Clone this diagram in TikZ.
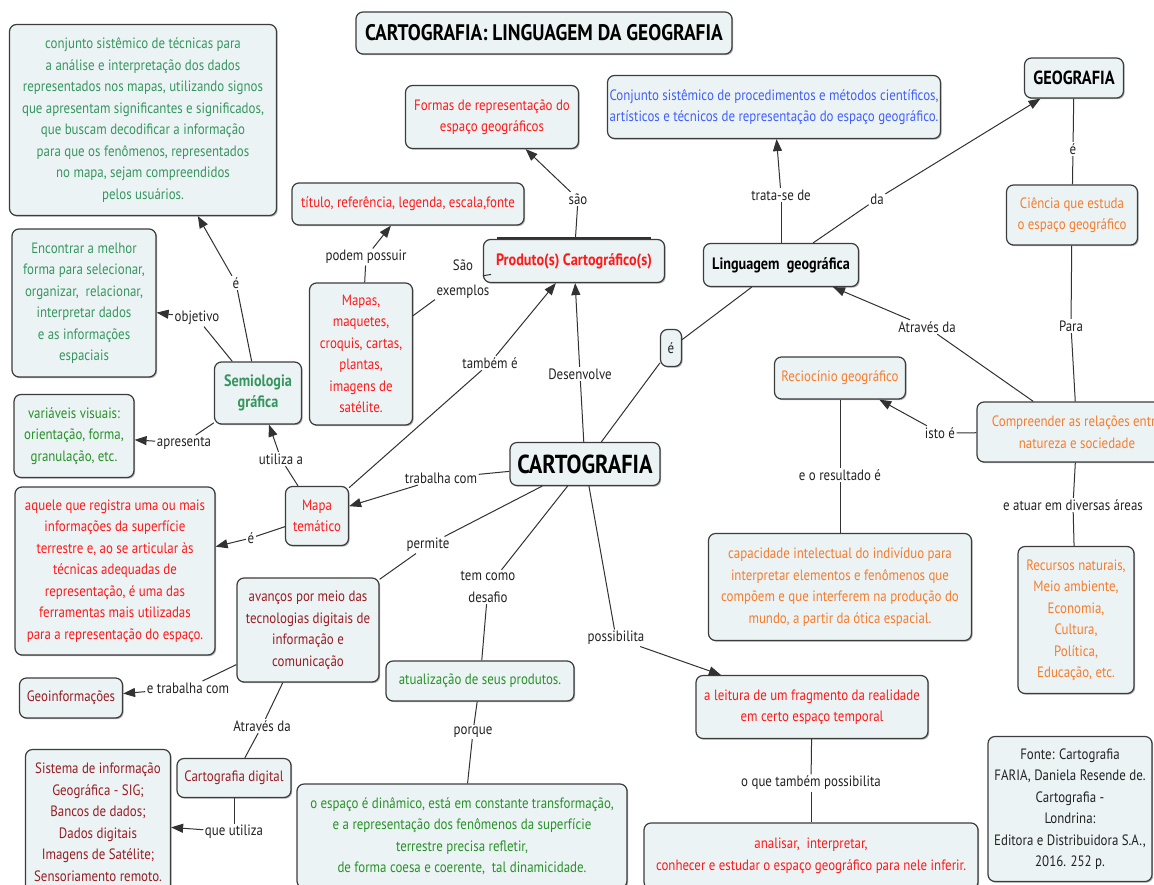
\documentclass[tikz,border=0pt]{standalone}
\usepackage{fontspec}
\setmainfont{PT Sans}[FakeStretch=0.86]
\usetikzlibrary{arrows.meta,shadows}
\definecolor{boxfill}{RGB}{236,243,245}
\definecolor{boxline}{RGB}{60,60,60}
\definecolor{linec}{RGB}{50,50,50}
\definecolor{lbltext}{RGB}{35,35,35}
\definecolor{cgreen}{RGB}{55,150,95}
\definecolor{cgreen2}{RGB}{40,145,40}
\definecolor{cred}{RGB}{255,25,25}
\definecolor{cdred}{RGB}{150,30,35}
\definecolor{corange}{RGB}{245,125,45}
\definecolor{cblue}{RGB}{65,95,255}
\newcommand\mapfont{\fontsize{15}{21.5}\selectfont}
\newcommand\mapbold{\fontsize{16.5}{21.5}\selectfont\bfseries}

\begin{document}
\begin{tikzpicture}[x=1pt,y=-1pt,>={Triangle[length=12pt,width=9pt]},
 every node/.style={font=\mapfont},
 box/.style={draw=boxline,fill=boxfill,rounded corners=7pt,line width=1.2pt,align=center,inner sep=2pt,
  drop shadow={shadow xshift=1.2pt,shadow yshift=-1.2pt,opacity=.3,fill=black}},
 wh/.style 2 args={minimum width=#1pt,minimum height=#2pt},
 lbl/.style={text=lbltext,align=center,inner sep=1.5pt},
 con/.style={draw=linec,line width=1pt}]
\fill[white] (0,0) rectangle (1154,884);
\useasboundingbox (0,0) rectangle (1154,884);

\node[box,font=\bfseries\fontsize{22.5}{24}\selectfont,wh={376}{42}] (title) at (544,33) {CARTOGRAFIA: LINGUAGEM DA GEOGRAFIA};

\node[box,text=cgreen,wh={267}{191}] (semdef) at (143,120) {conjunto sistêmico de técnicas para\\a análise e interpretação dos dados\\representados nos mapas, utilizando signos\\que apresentam significantes e significados,\\que buscam decodificar a informação\\para que os fenômenos, representados\\no mapa, sejam compreendidos\\pelos usuários.};
\node[box,text=cgreen,wh={144}{148}] (goal) at (84,303) {Encontrar a melhor\\forma para selecionar,\\organizar,\ \ relacionar,\\interpretar dados\\e as informações\\espaciais};
\node[box,text=cgreen,font=\mapbold,wh={87}{62}] (semio) at (258,393) {Semiologia\\gráfica};
\node[box,text=cgreen2,wh={120}{83}] (visual) at (74,436) {variáveis visuais:\\orientação, forma,\\granulação, etc.};
\node[box,text=cred,wh={173}{63}] (formas) at (492,117) {Formas de representação do\\espaço geográficos};
\node[box,text=cred,wh={232}{42}] (elem) at (408,204) {título, referência, legenda, escala,fonte};
\node[box,text=cred,font=\mapbold,wh={181}{43}] (prod) at (574,261) {Produto(s) Cartográfico(s)};
\draw[linec,line width=2.5pt] ([xshift=14pt,yshift=1pt]prod.north west)--([xshift=-14pt,yshift=1pt]prod.north east);
\node[box,text=cred,wh={103}{142}] (exem) at (361,354) {Mapas,\\maquetes,\\croquis, cartas,\\plantas,\\imagens de\\satélite.};
\node[box,text=cblue,wh={332}{63}] (conj) at (774,107) {Conjunto sistêmico de procedimentos e métodos científicos,\\artísticos e técnicos de representação do espaço geográfico.};
\node[box,font=\bfseries\fontsize{19}{21}\selectfont,wh={99}{40}] (geo) at (1074,78) {GEOGRAFIA};
\node[box,font=\mapbold,wh={155}{43}] (ling) at (781,265) {Linguagem\ \ geográfica};
\node[box,text=corange,wh={131}{60}] (cien) at (1072,215) {Ciência que estuda\\o espaço geográfico};
\node[box,font=\bfseries\fontsize{26}{28}\selectfont,wh={150}{43}] (cart) at (585,464) {CARTOGRAFIA};
\node[box,text=lbltext,wh={21}{37},inner sep=0pt] (eh) at (671,348) {é};
\node[box,text=corange,wh={131}{42}] (racio) at (840,378) {Reciocínio geográfico};
\node[box,text=corange,wh={200}{60}] (comp) at (1077,432) {Compreender as relações entre\\natureza e sociedade};
\node[box,text=corange,wh={116}{147}] (areas) at (1076,620) {Recursos naturais,\\Meio ambiente,\\Economia,\\Cultura,\\Política,\\Educação, etc.};
\node[box,text=corange,wh={263}{107}] (capac) at (840,587) {capacidade intelectual do indivíduo para\\interpretar elementos e fenômenos que\\compõem e que interferem na produção do\\mundo, a partir da ótica espacial.};
\node[box,text=cred,wh={63}{59}] (tema) at (317,516) {Mapa\\temático};
\node[box,text=cred,wh={200}{168}] (aquele) at (115,571) {aquele que registra uma ou mais\\informações da superfície\\terrestre e, ao se articular às\\técnicas adequadas de\\representação, é uma das\\ferramentas mais utilizadas\\para a representação do espaço.};
\node[box,text=cdred,wh={142}{104}] (avan) at (308,630) {avanços por meio das\\tecnologias digitais de\\informação e\\comunicação};
\node[box,text=cdred,wh={103}{40}] (geoinf) at (71,698) {Geoinformações};
\node[box,text=cdred,wh={114}{39}] (digit) at (234,778) {Cartografia digital};
\node[box,text=cdred,wh={145}{145}] (sig) at (98,822) {Sistema de informação\\Geográfica - SIG;\\Bancos de dados;\\Dados digitais\\Imagens de Satélite;\\Sensoriamento remoto.};
\node[box,text=cgreen2,wh={188}{40}] (atual) at (480,681) {atualização de seus produtos.};
\node[box,text=cgreen2,wh={330}{104}] (dinam) at (462,836) {o espaço é dinâmico, está em constante transformação,\\e a representação dos fenômenos da superfície\\terrestre precisa refletir,\\de forma coesa e coerente,\ \ tal dinamicidade.};
\node[box,text=cred,wh={232}{63}] (leit) at (812,707) {a leitura de um fragmento da realidade\\em certo espaço temporal};
\node[box,text=cred,wh={334}{66}] (anal) at (811,856) {analisar,\ \ interpretar,\\conhecer e estudar o espaço geográfico para nele inferir.};
\node[box,text=lbltext,wh={164}{145}] (fonte) at (1070,809) {Fonte: Cartografia\\FARIA, Daniela Resende de.\\Cartografia -\\Londrina:\\Editora e Distribuidora S.A.,\\2016. 252 p.};

\node[lbl] (ea) at (236,283) {é};
\node[lbl] (obj) at (197,318) {objetivo};
\node[lbl] (apr) at (184,443) {apresenta};
\node[lbl] (util) at (281,459) {utiliza a};
\node[lbl] (eb) at (251,538) {é};
\node[lbl] (trab) at (441,478) {trabalha com};
\node[lbl] (tamb) at (490,363) {também é};
\node[lbl] (desen) at (580,374) {Desenvolve};
\node[lbl] (saoex) at (463,279) {São\\[3pt]exemplos};
\node[lbl] (podem) at (366,257) {podem possuir};
\node[lbl] (sao) at (578,199) {são};
\node[lbl] (trata) at (781,195) {trata-se de};
\node[lbl] (da) at (877,199) {da};
\node[lbl] (ec) at (1073,149) {é};
\node[lbl] (para) at (1071,326) {Para};
\node[lbl] (atrav) at (927,327) {Através da};
\node[lbl] (isto) at (940,433) {isto é};
\node[lbl] (result) at (840,475) {e o resultado é};
\node[lbl] (atuar) at (1073,505) {e atuar em diversas áreas};
\node[lbl] (perm) at (428,545) {permite};
\node[lbl] (desaf) at (488,587) {tem como\\desafio};
\node[lbl] (poss) at (616,638) {possibilita};
\node[lbl] (porq) at (473,732) {porque};
\node[lbl] (tposs) at (811,783) {o que também possibilita};
\node[lbl] (etrab) at (188,688) {e trabalha com};
\node[lbl] (atrav2) at (262,726) {Através da};
\node[lbl] (qutil) at (234,832) {que utiliza};

\draw[con] (semio)--(ea); \draw[con,->] (ea)--(semdef);
\draw[con] (semio)--(obj); \draw[con,->] (obj)--(goal);
\draw[con] (semio)--(apr); \draw[con,->] (apr)--(visual);
\draw[con] (tema)--(util); \draw[con,->] (util)--(semio);
\draw[con] (tema)--(eb); \draw[con,->] (eb)--(aquele);
\draw[con] (cart)--(trab); \draw[con,->] (trab)--(tema);
\draw[con] (tema)--(tamb); \draw[con,->] (tamb)--(prod);
\draw[con] (cart)--(desen); \draw[con,->] (desen)--(prod);
\draw[con] (exem)--(saoex); \draw[con] (saoex)--(prod);
\draw[con] (exem)--(podem); \draw[con,->] (podem)--(elem);
\draw[con] (prod)--(sao); \draw[con,->] (sao)--(formas);
\draw[con] (cart)--(eh); \draw[con] (eh)--(ling);
\draw[con] (ling)--(trata); \draw[con,->] (trata)--(conj);
\draw[con] (ling)--(da); \draw[con,->] (da)--(geo);
\draw[con] (geo)--(ec); \draw[con] (ec)--(cien);
\draw[con] (cien)--(para); \draw[con] (para)--(comp);
\draw[con] (comp)--(atrav); \draw[con,->] (atrav)--(ling);
\draw[con] (comp)--(isto); \draw[con,->] (isto)--(racio);
\draw[con] (racio)--(result); \draw[con] (result)--(capac);
\draw[con] (comp)--(atuar); \draw[con] (atuar)--(areas);
\draw[con] (cart)--(perm); \draw[con] (perm)--(avan);
\draw[con] (cart)--(desaf); \draw[con] (desaf)--(atual);
\draw[con] (cart)--(poss); \draw[con,->] (poss)--(leit);
\draw[con] (atual)--(porq); \draw[con] (porq)--(dinam);
\draw[con] (leit)--(tposs); \draw[con] (tposs)--(anal);
\draw[con] (avan)--(etrab); \draw[con,->] (etrab)--(geoinf);
\draw[con] (avan)--(atrav2); \draw[con] (atrav2)--(digit);
\draw[con] (digit)--(qutil); \draw[con,->] (qutil)--(sig);
\end{tikzpicture}
\end{document}
